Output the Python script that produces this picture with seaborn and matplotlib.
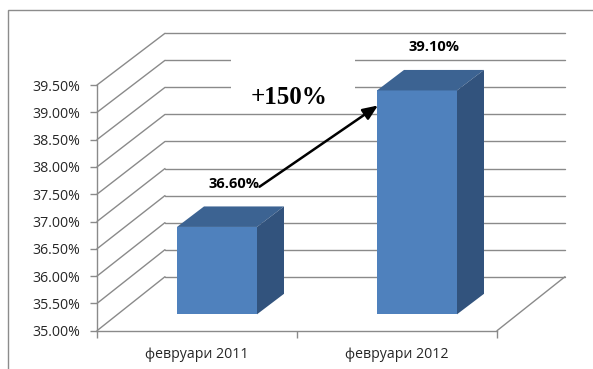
import matplotlib
matplotlib.use("Agg")
import matplotlib.pyplot as plt
from matplotlib.patches import Polygon, Rectangle, ConnectionPatch
from matplotlib.transforms import ScaledTranslation
import pandas as pd
import seaborn as sns

# ---- data ----
categories = ["февруари 2011", "февруари 2012"]
values = [36.60, 39.10]
value_labels = ["36.60%", "39.10%"]
y_ticks = [35.0, 35.5, 36.0, 36.5, 37.0, 37.5, 38.0, 38.5, 39.0, 39.5]
y_tick_labels = ["35.00%", "35.50%", "36.00%", "36.50%", "37.00%",
                 "37.50%", "38.00%", "38.50%", "39.00%", "39.50%"]
growth_label = "+150%"

# ---- styling ----
W, H, DPI = 593, 369, 100
GRID = "#8a8a8a"
TEXT = "#262626"
FACE = "#4f81bd"
TOP = "#3c6392"
SIDE = "#32537d"
Y_RANGE = (35.0, 39.5)
X_RANGE = (-0.5, 1.5)

sns.set_theme(style="white")
plt.rcParams["font.family"] = ["Open Sans", "DejaVu Sans"]

fig = plt.figure(figsize=(W / DPI, H / DPI), dpi=DPI)
fig.patch.set_facecolor("white")


def pixel_axes(left, top, right, bottom):
    """Axes placed by a pixel box (origin at top-left)."""
    ax = fig.add_axes([left / W, 1 - bottom / H, (right - left) / W, (bottom - top) / H])
    ax.set_facecolor("none")
    ax.set_xlim(*X_RANGE)
    ax.set_ylim(*Y_RANGE)
    return ax


# three planes of the 3-D box: back wall, front edge, bar depth
ax_back = pixel_axes(165, 33.3, 565, 276.7)
ax_front = pixel_axes(97, 85, 497, 330.7)
ax_bar = pixel_axes(117, 68.6, 517, 314.3)

# back wall grid
ax_back.set_yticks(y_ticks)
ax_back.set_xticks([])
ax_back.tick_params(length=0, labelleft=False, labelbottom=False)
ax_back.yaxis.grid(True, color=GRID, lw=1.0)
for line in ax_back.get_ygridlines():
    line.set_clip_on(False)
for s in ax_back.spines.values():
    s.set_visible(False)

# front axis: tick labels, spines
ax_front.set_yticks(y_ticks)
ax_front.set_yticklabels(y_tick_labels)
ax_front.set_xticks([0, 1])
ax_front.set_xticklabels(categories)
ax_front.set_xticks([-0.5, 0.5, 1.5], minor=True)
ax_front.tick_params(axis="y", length=5, width=1, color=GRID, pad=7,
                     labelsize=10.2, labelcolor=TEXT, left=True)
ax_front.tick_params(axis="x", which="major", length=0, pad=12,
                     labelsize=10.2, labelcolor=TEXT)
ax_front.tick_params(axis="x", which="minor", length=5, width=1, color=GRID, bottom=True)
for name, s in ax_front.spines.items():
    s.set_visible(name in ("left", "bottom"))
    s.set_color(GRID)
    s.set_linewidth(1.0)

# side wall and floor edges joining the front plane to the back wall
for v in y_ticks:
    fig.add_artist(ConnectionPatch((X_RANGE[0], v), (X_RANGE[0], v),
                                   coordsA=ax_front.transData, coordsB=ax_back.transData,
                                   color=GRID, lw=1.0))
fig.add_artist(ConnectionPatch((X_RANGE[1], Y_RANGE[0]), (X_RANGE[1], Y_RANGE[0]),
                               coordsA=ax_front.transData, coordsB=ax_back.transData,
                               color=GRID, lw=1.0))

# bars
df = pd.DataFrame({"period": categories, "share": values})
sns.barplot(data=df, x="period", y="share", ax=ax_bar, color=FACE,
            saturation=1, width=0.4, linewidth=0)
ax_bar.set_xlim(*X_RANGE)
ax_bar.set_ylim(*Y_RANGE)
ax_bar.axis("off")

# depth of each bar, converted from pixels to data units
DEPTH_PX = (27, 20.5)
inv = ax_bar.transData.inverted()
p0 = inv.transform((0, 0))
p1 = inv.transform(DEPTH_PX)
ddx, ddy = p1[0] - p0[0], p1[1] - p0[1]
base = Y_RANGE[0]
for p in ax_bar.patches:
    x0, w, top = p.get_x(), p.get_width(), p.get_y() + p.get_height()
    ax_bar.add_patch(Polygon([(x0, top), (x0 + w, top), (x0 + w + ddx, top + ddy),
                              (x0 + ddx, top + ddy)], closed=True, fc=TOP, ec="none",
                             clip_on=False))
    ax_bar.add_patch(Polygon([(x0 + w, base), (x0 + w, top), (x0 + w + ddx, top + ddy),
                              (x0 + w + ddx, base + ddy)], closed=True, fc=SIDE, ec="none",
                             clip_on=False))

# value labels above the bars
labels = []
for i, (v, lab) in enumerate(zip(values, value_labels)):
    t = ax_bar.annotate(lab, xy=(i, v), xytext=(17 * 72 / DPI, 43 * 72 / DPI),
                        textcoords="offset points", ha="center", va="center",
                        fontsize=10.5, fontweight="bold", color="black",
                        annotation_clip=False)
    labels.append(t)

# growth arrow from the first label to the second bar
bar2 = ax_bar.patches[1]
tip = ax_bar.transData + ScaledTranslation(1 / DPI, -15 / DPI, fig.dpi_scale_trans)
ax_bar.annotate("", xy=(bar2.get_x(), values[1]), xycoords=tip,
                xytext=(1.0, 0.3), textcoords=labels[0],
                arrowprops=dict(arrowstyle="-|>,head_length=0.6,head_width=0.25",
                                color="black", lw=1.8, mutation_scale=15,
                                shrinkA=0, shrinkB=0),
                annotation_clip=False)

# growth text on a white box
ax_front.add_patch(Rectangle((0.335, 0.906), 0.31, 0.228, transform=ax_front.transAxes,
                             fc="white", ec="none", clip_on=False, zorder=3))
ax_front.text(0.48, 0.9247, growth_label, transform=ax_front.transAxes,
              ha="center", va="baseline", fontsize=18, fontweight="bold",
              family="Liberation Serif", color="black", zorder=4)

# chart frame
fig.add_artist(Rectangle((8 / W, -0.1), 1.2, 1.1 - 10 / H, transform=fig.transFigure,
                         fill=False, ec="#8c8c8c", lw=1.0))

fig.savefig("out.png", dpi=DPI, facecolor="white")
